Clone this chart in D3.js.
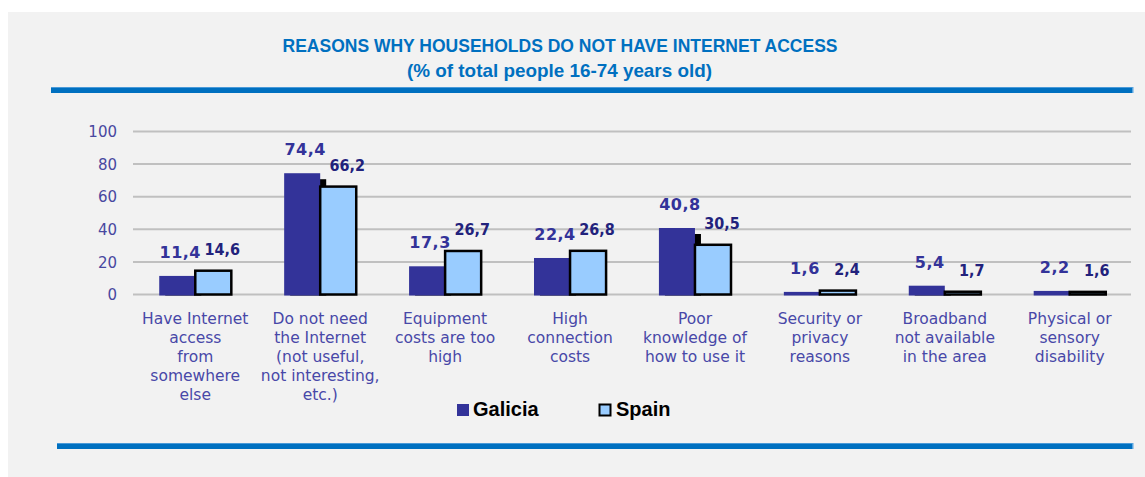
<!DOCTYPE html>
<html><head><meta charset="utf-8">
<script src="https://cdn.jsdelivr.net/npm/d3@7"></script>
<style>html,body{margin:0;padding:0;background:#fff;}svg{display:block;}</style>
</head><body>
<svg id="chart" width="1145" height="477"></svg>
<script>
const categories = [
  ["Have Internet","access","from","somewhere","else"],
  ["Do not need","the Internet","(not useful,","not interesting,","etc.)"],
  ["Equipment","costs are too","high"],
  ["High","connection","costs"],
  ["Poor","knowledge of","how to use it"],
  ["Security or","privacy","reasons"],
  ["Broadband","not available","in the area"],
  ["Physical or","sensory","disability"]
];
const seriesNames = ["Galicia","Spain"];
const galicia = [11.4, 74.4, 17.3, 22.4, 40.8, 1.6, 5.4, 2.2];
const spain   = [14.6, 66.2, 26.7, 26.8, 30.5, 2.4, 1.7, 1.6];
const yTicks = [0,20,40,60,80,100];
const title1 = "REASONS WHY HOUSEHOLDS DO NOT HAVE INTERNET ACCESS";
const title2 = "(% of total people 16-74 years old)";

const svg = d3.select("#chart");
const fmt = v => String(v.toFixed(1)).replace(".", ",");

// panel background
svg.append("rect").attr("x",8).attr("y",12).attr("width",1137).attr("height",465).attr("fill","#f2f2f2");

// titles
svg.append("text").attr("x",560).attr("y",52).attr("text-anchor","middle")
  .attr("font-family","'Liberation Sans Narrow', 'Liberation Sans', sans-serif").attr("font-weight","bold")
  .attr("font-size",18.5).attr("fill","#0070c0")
  .attr("textLength",555).attr("lengthAdjust","spacingAndGlyphs").text(title1);
svg.append("text").attr("x",559.5).attr("y",77).attr("text-anchor","middle")
  .attr("font-family","'Liberation Sans Narrow', 'Liberation Sans', sans-serif").attr("font-weight","bold")
  .attr("font-size",18.5).attr("fill","#0070c0")
  .attr("textLength",305).attr("lengthAdjust","spacingAndGlyphs").text(title2);

// blue rules
function rule(x1,x2,y){
  svg.append("rect").attr("x",x1).attr("y",y).attr("width",x2-x1).attr("height",6).attr("fill","#0070c0");
  svg.append("rect").attr("x",x1).attr("y",y).attr("width",x2-x1).attr("height",1).attr("fill","#4a9ad8");
  svg.append("rect").attr("x",x2-1).attr("y",y).attr("width",1.5).attr("height",6).attr("fill","#5aa5e0");
}
rule(51,1133,87);
rule(57,1133,443);

// scales
const x0 = d3.scaleBand().domain(d3.range(categories.length)).range([133,1132])
  .paddingInner(0.423).paddingOuter(0.21);
const x1 = d3.scaleBand().domain(seriesNames).range([0,x0.bandwidth()]);
const y = d3.scaleLinear().domain([0,100]).range([294.5,131.5]);

// gridlines
svg.append("g").selectAll("line").data(yTicks).join("line")
  .attr("x1",133).attr("x2",1131).attr("y1",d=>y(d)).attr("y2",d=>y(d))
  .attr("stroke","#c0c0c0").attr("stroke-width",2);

// y axis labels
const yAxis = d3.axisLeft(y).tickValues(yTicks).tickSize(0).tickPadding(0);
const ya = svg.append("g").attr("transform","translate(117,0)").call(yAxis);
ya.select(".domain").remove();
ya.selectAll("text").attr("font-family","'DejaVu Sans', Verdana, sans-serif").attr("font-size",15)
  .attr("fill","#4848a0").attr("dy","0.35em");

// clip for shadows at baseline
svg.append("clipPath").attr("id","plotclip").append("rect")
  .attr("x",120).attr("y",100).attr("width",1020).attr("height",y(0)-100+1);

const gx = i => x0(i);
// Galicia shadow
svg.append("g").attr("clip-path","url(#plotclip)").selectAll("rect").data(galicia).join("rect")
  .attr("x",(d,i)=>gx(i)+x1("Galicia")+6).attr("y",d=>y(d)+6)
  .attr("width",x1.bandwidth()).attr("height",d=>Math.max(0,y(0)-y(d)))
  .attr("fill","#000");
// Galicia bars
svg.append("g").selectAll("rect").data(galicia).join("rect")
  .attr("x",(d,i)=>gx(i)+x1("Galicia")).attr("y",d=>y(d))
  .attr("width",x1.bandwidth()).attr("height",d=>y(0)-y(d)+1)
  .attr("fill","#333399");
// Spain bars
svg.append("g").selectAll("rect").data(spain).join("rect")
  .attr("x",(d,i)=>gx(i)+x1("Spain")).attr("y",d=>y(d))
  .attr("width",x1.bandwidth()).attr("height",d=>y(0)-y(d))
  .attr("fill","#99ccff").attr("stroke","#000").attr("stroke-width",2.5);

// value labels
svg.append("g").selectAll("text").data(galicia).join("text")
  .attr("x",(d,i)=>gx(i)+x1("Galicia")+x1.bandwidth()/2+3).attr("y",d=>y(d)-18)
  .attr("text-anchor","middle").attr("font-family","'DejaVu Sans', Verdana, sans-serif")
  .attr("font-weight","bold").attr("font-size",16).attr("letter-spacing",0.5)
  .attr("fill","#333399").text(d=>fmt(d));
svg.append("g").selectAll("text").data(spain).join("text")
  .attr("x",(d,i)=>gx(i)+x1("Spain")+x1.bandwidth()/2+9).attr("y",d=>y(d)-16)
  .attr("text-anchor","middle").attr("font-family","'DejaVu Sans Condensed', 'DejaVu Sans', sans-serif")
  .attr("font-weight","bold").attr("font-size",16)
  .attr("fill","#22227c").text(d=>fmt(d));

// category labels
const cg = svg.append("g").selectAll("text").data(categories).join("text")
  .attr("text-anchor","middle").attr("font-family","'DejaVu Sans', Verdana, sans-serif")
  .attr("font-size",15.5).attr("fill","#4848a8");
cg.each(function(lines,i){
  const t = d3.select(this);
  lines.forEach((l,k)=>{
    t.append("tspan").attr("x",x0(i)+x0.bandwidth()/2).attr("y",324+k*19).text(l);
  });
});

// legend
const leg = svg.append("g");
leg.append("rect").attr("x",457).attr("y",404).attr("width",12).attr("height",12).attr("fill","#333399");
leg.append("text").attr("x",473).attr("y",416).attr("font-family","'Liberation Sans', Arial, sans-serif")
  .attr("font-weight","bold").attr("font-size",20).attr("fill","#000").text(seriesNames[0]);
leg.append("rect").attr("x",599.5).attr("y",404.5).attr("width",11).attr("height",11)
  .attr("fill","#99ccff").attr("stroke","#000").attr("stroke-width",2);
leg.append("text").attr("x",616).attr("y",416).attr("font-family","'Liberation Sans', Arial, sans-serif")
  .attr("font-weight","bold").attr("font-size",20).attr("fill","#000").text(seriesNames[1]);
</script>
</body></html>
